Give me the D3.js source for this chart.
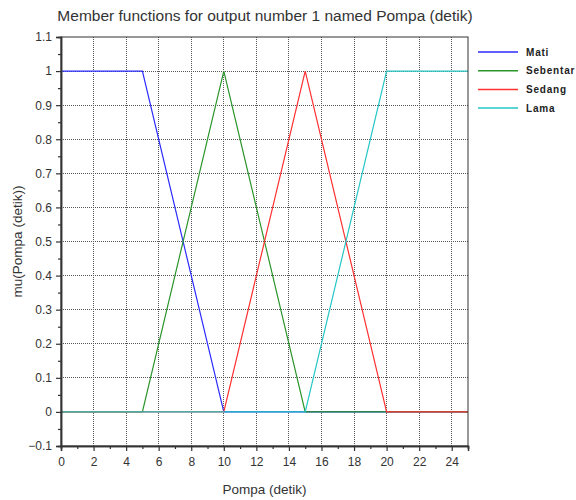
<!DOCTYPE html>
<html>
<head>
<meta charset="utf-8">
<script src="https://cdn.jsdelivr.net/npm/d3@7"></script>
<style>
  body { margin: 0; background: #fff; }
  svg { font-family: "Liberation Sans", Arial, sans-serif; }
</style>
</head>
<body>
<svg width="576" height="500"></svg>
<script>
// membership functions of output Pompa (detik)
let nama = ["Mati", "Sebentar", "Sedang", "Lama"];
let cores = ["#2b2bff", "#2a962a", "#ff3030", "#26c6c6"];
let mati = [[0, 1], [5, 1], [10, 0], [25, 0]];
let sebentar = [[0, 0], [5, 0], [10, 1], [15, 0], [25, 0]];
let sedang = [[0, 0], [10, 0], [15, 1], [20, 0], [25, 0]];
let lama = [[0, 0], [15, 0], [20, 1], [25, 1]];
let series = [mati, sebentar, sedang, lama];

let xTicks = d3.range(0, 25, 2);
let yTicks = [-0.1, 0, 0.1, 0.2, 0.3, 0.4, 0.5, 0.6, 0.7, 0.8, 0.9, 1, 1.1];

let $svg = d3.select("svg");
let margin = { left: 61, right: 108, top: 37, bottom: 54 };
let w = 576, h = 500;

let x = d3.scaleLinear().domain([0, 25]).range([margin.left, w - margin.right]);
let y = d3.scaleLinear().domain([-0.1, 1.1]).range([h - margin.bottom, margin.top]);

// grid
let grid = $svg.append("g");
grid.selectAll("line.gx").data(xTicks.slice(1))
  .enter().append("line")
  .attr("x1", d => x(d)).attr("x2", d => x(d))
  .attr("y1", y(-0.1)).attr("y2", y(1.1));
grid.selectAll("line.gy").data(yTicks.slice(1, -1))
  .enter().append("line")
  .attr("x1", x(0)).attr("x2", x(25))
  .attr("y1", d => y(d)).attr("y2", d => y(d));
grid.selectAll("line")
  .attr("stroke", "#555")
  .attr("stroke-width", 1)
  .attr("stroke-dasharray", "1,1")
  .attr("shape-rendering", "crispEdges");

// curves
let linha = d3.line().x(d => x(d[0])).y(d => y(d[1]));
$svg.selectAll("path.mf").data(series)
  .enter().append("path")
  .classed("mf", true)
  .attr("d", linha)
  .attr("fill", "none")
  .attr("stroke", (d, i) => cores[i])
  .attr("stroke-width", 1.2);

// frame
$svg.append("rect")
  .attr("x", x(0)).attr("y", y(1.1))
  .attr("width", x(25) - x(0)).attr("height", y(-0.1) - y(1.1))
  .attr("fill", "none").attr("stroke", "#333").attr("stroke-width", 1);

// axes
let xAxis = $svg.append("g").attr("transform", `translate(0,${y(-0.1)})`)
  .call(d3.axisBottom(x).tickValues(xTicks).tickSize(5).tickPadding(6).tickFormat(d3.format("d")));
let xMinor = $svg.append("g").attr("transform", `translate(0,${y(-0.1)})`)
  .call(d3.axisBottom(x).tickValues(d3.range(1, 26, 2)).tickSize(3).tickFormat(""));

let yAxis = $svg.append("g").attr("transform", `translate(${x(0)},0)`)
  .call(d3.axisLeft(y).tickValues(yTicks).tickSize(5).tickPadding(4).tickFormat(d => d3.format("~g")(+d.toFixed(1))));
let yMinor = $svg.append("g").attr("transform", `translate(${x(0)},0)`)
  .call(d3.axisLeft(y).tickValues(d3.range(-0.05, 1.1, 0.1)).tickSize(3).tickFormat(""));

[xAxis, xMinor, yAxis, yMinor].forEach(function(g) {
  g.select(".domain").attr("stroke", "#333").attr("stroke-width", 1.5);
  g.selectAll(".tick line").attr("stroke", "#333").attr("stroke-width", 1.2);
  g.selectAll(".tick text").attr("fill", "#333").style("font-size", "12px")
    .style("font-family", "'Liberation Sans', Arial, sans-serif");
});

// title and labels
$svg.append("text")
  .attr("x", 265).attr("y", 21)
  .attr("text-anchor", "middle")
  .attr("fill", "#333")
  .style("font-size", "15.5px")
  .text("Member functions for output number 1 named Pompa (detik)");

$svg.append("text")
  .attr("x", (x(0) + x(25)) / 2).attr("y", 494)
  .attr("text-anchor", "middle")
  .attr("fill", "#333")
  .style("font-size", "13.5px")
  .text("Pompa (detik)");

$svg.append("text")
  .attr("transform", `translate(22,${(y(-0.1) + y(1.1)) / 2}) rotate(-90)`)
  .attr("text-anchor", "middle")
  .attr("fill", "#333")
  .style("font-size", "13.5px")
  .text("mu(Pompa (detik))");

// legend
let leg = $svg.append("g").selectAll("g").data(nama)
  .enter().append("g")
  .attr("transform", (d, i) => `translate(478,${52 + i * 18.7})`);
leg.append("line")
  .attr("x1", 0).attr("x2", 40)
  .attr("stroke", (d, i) => cores[i])
  .attr("stroke-width", 1.5);
leg.append("text")
  .attr("x", 48).attr("dy", "0.35em")
  .attr("fill", "#222")
  .style("font-size", "10px")
  .style("font-weight", "bold")
  .style("letter-spacing", "0.8px")
  .style("font-family", "'Liberation Sans', Arial, sans-serif")
  .text(d => d);
</script>
</body>
</html>
